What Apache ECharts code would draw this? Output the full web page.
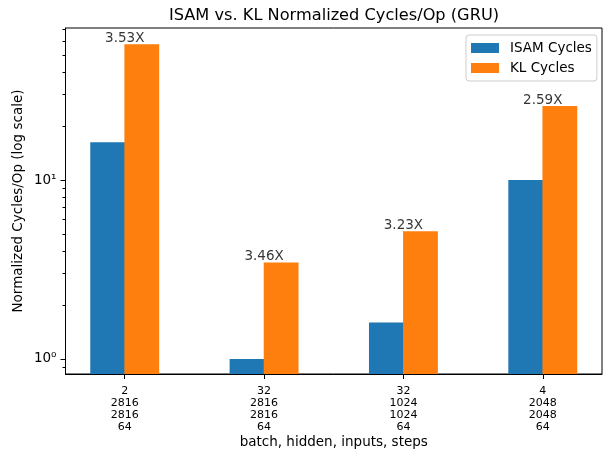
<!DOCTYPE html>
<html>
<head>
<meta charset="utf-8">
<script src="https://cdn.jsdelivr.net/npm/echarts@6/dist/echarts.min.js"></script>
<style>
html,body{margin:0;padding:0;background:#fff;}
#c{width:607px;height:449px;}
</style>
</head>
<body>
<div id="c"></div>
<script>
// ---- data ----
var batch = [2, 32, 32, 4];
var hidden = [2816, 2816, 1024, 2048];
var inputs = [2816, 2816, 1024, 2048];
var steps = [64, 64, 64, 64];
var isamCycles = [16.24, 1.0, 1.6, 10.0];
var klCycles = [57.3, 3.46, 5.17, 25.9];
var ratios = [3.53, 3.46, 3.23, 2.59];
var yMajorTicks = [1, 10];
var yMajorLabels = ['10\u2070', '10\u00b9'];
var yMinorTicks = [0.9, 2, 3, 4, 5, 6, 7, 8, 9, 20, 30, 40, 50, 60, 70];

var FONT = 'DejaVu Sans';
var positions = batch.map(function (_, i) { return i; });
var catLabels = batch.map(function (b, i) {
  return b + '\n' + hidden[i] + '\n' + inputs[i] + '\n' + steps[i];
});

var yMin = 0.824, yMax = 70.7;
var chart = echarts.init(document.getElementById('c'), null, {renderer: 'canvas'});
var option = {
  backgroundColor: '#fff',
  animation: false,
  textStyle: {fontFamily: FONT},
  grid: {left: 65.5, right: 5, top: 28, bottom: 75, show: true, borderColor: '#000', borderWidth: 1,
         backgroundColor: 'transparent', containLabel: false, outerBoundsMode: 'none'},
  graphic: [{
    type: 'text', x: 334, y: 15.5,
    style: {text: 'ISAM vs. KL Normalized Cycles/Op (GRU)', font: '16.2px "DejaVu Sans"', fill: '#000', textAlign: 'center', textVerticalAlign: 'middle'}
  }],
  legend: {
    data: ['ISAM Cycles', 'KL Cycles'],
    orient: 'vertical', left: 466, top: 35,
    padding: [6, 5, 6, 5], itemWidth: 28, itemHeight: 10, itemGap: 6,
    icon: 'rect',
    borderColor: '#cccccc', borderWidth: 1, borderRadius: 3, backgroundColor: 'rgba(255,255,255,0.8)',
    textStyle: {fontFamily: FONT, fontSize: 13.5, color: '#000', lineHeight: 14, padding: [0, 0, 0, 6]}
  },
  xAxis: {
    type: 'value', min: -0.425, max: 3.425, z: 10,
    name: 'batch, hidden, inputs, steps', nameLocation: 'middle', nameGap: 61, nameMoveOverlap: false,
    nameTextStyle: {fontFamily: FONT, fontSize: 13.5, color: '#000'},
    axisLine: {show: true, onZero: false, lineStyle: {color: '#000', width: 1}},
    axisTick: {show: true, length: 5, lineStyle: {color: '#000'}, customValues: positions},
    axisLabel: {
      show: true, margin: 11, fontFamily: FONT, fontSize: 11, lineHeight: 12, color: '#000',
      customValues: positions,
      formatter: function (v) { var i = Math.round(v); return catLabels[i] !== undefined ? catLabels[i] : ''; }
    },
    splitLine: {show: false}
  },
  yAxis: [{
    type: 'log', logBase: 10, min: yMin, max: yMax, startValue: yMin, z: 10,
    name: 'Normalized Cycles/Op (log scale)', nameLocation: 'middle', nameGap: 40, nameRotate: 90, nameMoveOverlap: false,
    nameTextStyle: {fontFamily: FONT, fontSize: 13.5, color: '#000'},
    axisLine: {show: true, onZero: false, lineStyle: {color: '#000', width: 1}},
    axisTick: {show: true, length: 5, lineStyle: {color: '#000'}, customValues: yMajorTicks},
    axisLabel: {
      show: true, margin: 9, fontFamily: FONT, fontSize: 13.5, color: '#000',
      customValues: yMajorTicks,
      formatter: function (v) { var i = yMajorTicks.indexOf(Math.round(v)); return i >= 0 ? yMajorLabels[i] : ''; }
    },
    splitLine: {show: false}
  }, {
    type: 'log', logBase: 10, min: yMin, max: yMax, position: 'left', z: 10,
    axisLine: {show: false, onZero: false},
    axisTick: {show: true, length: 3, lineStyle: {color: '#000'}, customValues: yMinorTicks},
    axisLabel: {show: false},
    splitLine: {show: false}
  }],
  series: [{
    name: 'ISAM Cycles', type: 'bar', yAxisIndex: 0,
    barWidth: 34.8, barGap: '-2%',
    itemStyle: {color: '#1f77b4'},
    data: isamCycles.map(function (v, i) { return [positions[i], v]; })
  }, {
    name: 'KL Cycles', type: 'bar', yAxisIndex: 0,
    barWidth: 34.8, barGap: '-2%',
    itemStyle: {color: '#ff7f0e'},
    data: klCycles.map(function (v, i) { return [positions[i], v]; })
  }, {
    name: 'ratio', type: 'scatter', yAxisIndex: 0, symbolSize: 1,
    itemStyle: {color: 'rgba(0,0,0,0)'}, silent: true, z: 5,
    label: {
      show: true, position: 'top', distance: -2, fontFamily: FONT, fontSize: 13.5, color: '#000',
      formatter: function (p) { return ratios[p.dataIndex].toFixed(2) + 'X'; }
    },
    data: klCycles.map(function (v, i) { return [positions[i], v]; })
  }]
};
chart.setOption(option);
</script>
</body>
</html>
